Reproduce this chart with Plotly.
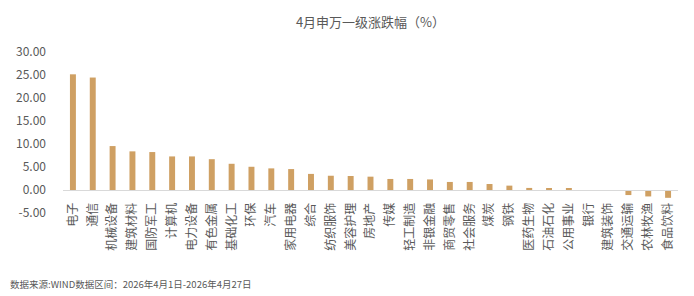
import plotly.graph_objects as go

categories = ["电子", "通信", "机械设备", "建筑材料", "国防军工", "计算机", "电力设备", "有色金属",
              "基础化工", "环保", "汽车", "家用电器", "综合", "纺织服饰", "美容护理", "房地产",
              "传媒", "轻工制造", "非银金融", "商贸零售", "社会服务", "煤炭", "钢铁", "医药生物",
              "石油石化", "公用事业", "银行", "建筑装饰", "交通运输", "农林牧渔", "食品饮料"]
values = [25.15, 24.45, 9.55, 8.40, 8.25, 7.30, 7.30, 6.70,
          5.70, 5.05, 4.70, 4.55, 3.50, 3.10, 3.05, 2.90,
          2.40, 2.40, 2.30, 1.75, 1.75, 1.30, 0.95, 0.45,
          0.30, 0.30, 0.00, -0.10, -1.10, -1.40, -1.70]
y_ticks = [30, 25, 20, 15, 10, 5, 0, -5]
y_tick_labels = ["30.00", "25.00", "20.00", "15.00", "10.00", "5.00", "0.00", "-5.00"]

title_text = "4月申万一级涨跌幅（%）"
source_text = "数据来源:WIND数据区间：2026年4月1日-2026年4月27日"

FONT = "Noto Sans CJK SC"
GRAY = "#595959"

fig = go.Figure(go.Bar(
    x=categories, y=values,
    marker=dict(color="#CFA063", line=dict(width=0)),
))

fig.update_layout(
    width=694, height=296,
    margin=dict(l=63, r=16, t=52, b=83),
    paper_bgcolor="white", plot_bgcolor="white",
    bargap=0.7,
    showlegend=False,
    font=dict(family=FONT, color=GRAY),
    title=dict(text=title_text, x=0.5, xanchor="center", xref="paper",
               y=1 - 22 / 296, yref="container", yanchor="middle",
               font=dict(family=FONT, size=13, color=GRAY)),
)

fig.update_yaxes(
    range=[-5, 30], tickvals=y_ticks, ticktext=y_tick_labels,
    showgrid=False, zeroline=False, showline=False,
    ticks="", ticklabelstandoff=16,
    tickfont=dict(family=FONT, size=12, color=GRAY),
    domain=[0, 1], automargin=False,
)
fig.update_xaxes(
    type="category", anchor="free", position=5 / 35,
    showline=True, linecolor="#D9D9D9", linewidth=1,
    showgrid=False, zeroline=False, ticks="",
    tickangle=-90, ticklabelstandoff=7,
    tickfont=dict(family=FONT, size=12, color=GRAY),
    automargin=False,
)

fig.add_annotation(
    text=source_text, xref="paper", yref="paper",
    x=-55 / 615, y=-(284 - 213) / 161, xanchor="left", yanchor="middle",
    showarrow=False, font=dict(family=FONT, size=9.5, color=GRAY),
)

fig.write_html("out.html")
